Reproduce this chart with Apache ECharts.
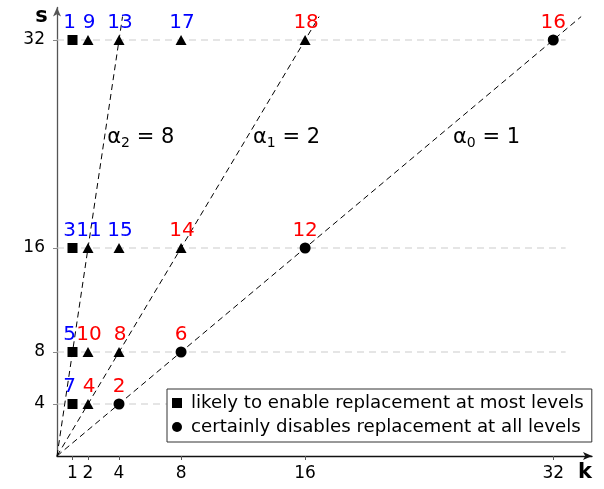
<!DOCTYPE html>
<html><head><meta charset="utf-8">
<script src="https://cdn.jsdelivr.net/npm/echarts@6/dist/echarts.min.js"></script>
<style>html,body{margin:0;padding:0;background:#fff}#c{width:604px;height:489px}</style>
</head><body><div id="c"></div>
<script>
const kTicks = [1, 2, 4, 8, 16, 32];
const sTicks = [4, 8, 16, 32];
const gridEndK = 32.8;
// [k, s, label, colour-key]
const squares = [[1,32,'1','b'],[1,16,'3','b'],[1,8,'5','b'],[1,4,'7','b']];
const triangles = [[2,32,'9','b'],[4,32,'13','b'],[8,32,'17','b'],[16,32,'18','r'],
  [2,16,'11','b'],[4,16,'15','b'],[8,16,'14','r'],
  [2,8,'10','r'],[4,8,'8','r'],[2,4,'4','r']];
const circles = [[32,32,'16','r'],[16,16,'12','r'],[8,8,'6','r'],[4,4,'2','r']];
const alphas = [8, 2, 1];
const alphaSub = ['2', '1', '0'];
const lineTopS = 33.8;
const annotPos = [[5.4, 24.5], [14.8, 24.5], [27.7, 24.5]];
const legendNames = ['likely to enable replacement at most levels', 'certainly disables replacement at all levels'];

const colMap = {b: '#0000ff', r: '#ff0000'};
const FONT = 'DejaVu Sans';

function pts(arr) {
  return arr.map(d => ({value: [d[0], d[1]], name: d[2],
    label: {color: colMap[d[3]]}}));
}
const ptLabel = {show: true, position: 'top', distance: 2, formatter: p => p.name,
  fontFamily: FONT, fontSize: 20};

const series = [];
sTicks.forEach(s => series.push({type: 'line', data: [[0, s], [gridEndK, s]], symbol: 'none',
  lineStyle: {color: '#cccccc', width: 1.2, type: [7, 5]}, silent: true, z: 1}));
alphas.forEach(a => series.push({type: 'line', data: [[0, 0], [lineTopS / a, lineTopS]], symbol: 'none',
  lineStyle: {color: '#000', width: 1, type: [6, 4]}, silent: true, z: 2}));
series.push({type: 'scatter', name: legendNames[0], symbol: 'rect', symbolSize: 10,
  itemStyle: {color: '#000', opacity: 1}, data: pts(squares),
  label: Object.assign({}, ptLabel, {offset: [-3, 0]}), z: 5});
series.push({type: 'scatter', name: 'tri', symbol: 'triangle', symbolSize: [11, 10],
  itemStyle: {color: '#000', opacity: 1}, data: pts(triangles),
  label: Object.assign({}, ptLabel, {offset: [1, 0]}), z: 5});
series.push({type: 'scatter', name: legendNames[1], symbol: 'circle', symbolSize: 11,
  itemStyle: {color: '#000', opacity: 1}, data: pts(circles), label: ptLabel, z: 5});
series.push({type: 'scatter', symbolSize: 0, silent: true, itemStyle: {opacity: 1},
  data: annotPos.map((p, i) => ({value: p, name: i})),
  label: {show: true, position: 'inside', color: '#000', fontFamily: FONT, fontSize: 21,
    formatter: p => '\u03b1{sub|' + alphaSub[p.name] + '} = ' + alphas[p.name],
    rich: {sub: {fontFamily: FONT, fontSize: 14, color: '#000', verticalAlign: 'bottom', padding: [12, 0, 0, 0]}}}});

const chart = echarts.init(document.getElementById('c'));
chart.setOption({
  animation: false,
  grid: {left: 57, right: 12, top: 7.5, bottom: 33},
  xAxis: {type: 'value', min: 0, max: 34.5,
    axisLine: {lineStyle: {color: '#111', width: 1.3}, symbol: ['none', 'arrow'], symbolSize: [6, 9]},
    axisTick: {show: true, customValues: kTicks, length: 4, lineStyle: {color: '#555'}},
    axisLabel: {customValues: kTicks, fontFamily: FONT, fontSize: 17, color: '#000', margin: 9},
    splitLine: {show: false}},
  yAxis: {type: 'value', min: 0, max: 34.5,
    axisLine: {show: true, lineStyle: {color: '#555', width: 1.3}, symbol: ['none', 'arrow'], symbolSize: [6, 9]},
    axisTick: {show: true, customValues: sTicks, length: 4, lineStyle: {color: '#888'}},
    axisLabel: {customValues: sTicks, fontFamily: FONT, fontSize: 17, color: '#000', margin: 12},
    splitLine: {show: false}},
  legend: {orient: 'vertical', left: 167, top: 389,
    data: [{name: legendNames[0], icon: 'rect'}, {name: legendNames[1], icon: 'circle'}],
    itemWidth: 10, itemHeight: 10, itemGap: 6, padding: [5, 8, 6, 5],
    borderColor: '#333', borderWidth: 1, backgroundColor: '#fff',
    textStyle: {fontFamily: FONT, fontSize: 18.2, color: '#000', padding: [0, 0, 0, 4]}, selectedMode: false},
  graphic: [
    {type: 'text', x: 41.5, y: 17, style: {text: 's', font: 'bold 21px "DejaVu Sans"', fill: '#000', align: 'center', verticalAlign: 'middle'}},
    {type: 'text', x: 585, y: 473, style: {text: 'k', font: 'bold 21px "DejaVu Sans"', fill: '#000', align: 'center', verticalAlign: 'middle'}}
  ],
  series: series
});
</script></body></html>
